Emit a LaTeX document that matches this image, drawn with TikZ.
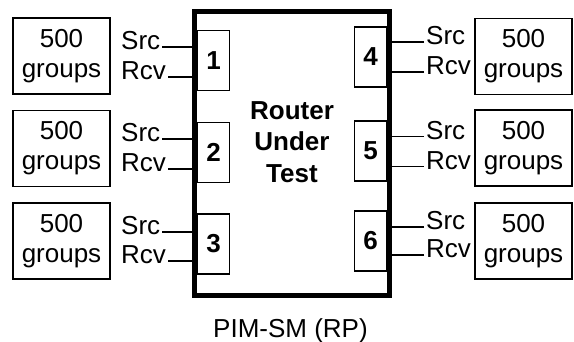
\documentclass[tikz,border=0pt]{standalone}
\usepackage{fontspec}
\setmainfont{Liberation Sans}
\usetikzlibrary{calc}
\tikzset{
  grpbox/.style={draw, line width=1.6pt, minimum width=97pt, minimum height=76pt, align=center, inner sep=0pt},
  portbox/.style={draw, line width=1.6pt, minimum width=32pt, minimum height=60pt, inner sep=0pt, font=\bfseries\fontsize{26}{30}\selectfont},
  sigtext/.style={anchor=mid west, inner sep=2pt},
  wire/.style={line width=1.5pt}
}

\begin{document}
\begin{tikzpicture}[x=1pt, y=-1pt, font=\fontsize{26}{30}\selectfont]
        \useasboundingbox (0,0) rectangle (574,341);
        \node[draw, line width=5pt, minimum width=195pt, minimum height=284.5pt] (rut) at (292,153.25) {};
        \node[align=center, font=\bfseries\fontsize{26}{31.5}\selectfont] (rutname) at (292,142) {Router\\Under\\Test};
        \node[anchor=base] (caption) at (290.5,337) {PIM-SM (RP)};

        \node[portbox] (p1) at (213.5,60.5) {1};
        \node[portbox] (p2) at (213.5,152.5) {2};
        \node[portbox] (p3) at (213.5,244) {3};
        \node[portbox] (p4) at (370.5,57) {4};
        \node[portbox] (p5) at (370.5,151) {5};
        \node[portbox] (p6) at (370.5,241) {6};

        \node[grpbox] (g1) at (61.5,56) {500\\groups};
        \node[grpbox] (g2) at (61.5,148.5) {500\\groups};
        \node[grpbox] (g3) at (61.5,241) {500\\groups};
        \node[grpbox] (g4) at (523.5,56.5) {500\\groups};
        \node[grpbox] (g5) at (523.5,148) {500\\groups};
        \node[grpbox] (g6) at (523.5,241) {500\\groups};

        \node[sigtext] (s1) at (119,47) {Src};
        \node[sigtext] (r1) at (119,77) {Rcv};
        \node[sigtext] (s2) at (119,139) {Src};
        \node[sigtext] (r2) at (119,169) {Rcv};
        \node[sigtext] (s3) at (119,232) {Src};
        \node[sigtext] (r3) at (119,261) {Rcv};
        \node[sigtext] (s4) at (424,42) {Src};
        \node[sigtext] (r4) at (424,72) {Rcv};
        \node[sigtext] (s5) at (424,136.5) {Src};
        \node[sigtext] (r5) at (424,166.5) {Rcv};
        \node[sigtext] (s6) at (424,227) {Src};
        \node[sigtext] (r6) at (424,255) {Rcv};

        \draw[wire] (s1.mid east) -- (s1.mid east -| rut.west);
        \draw[wire] (r1.mid east) -- (r1.mid east -| rut.west);
        \draw[wire] (s2.mid east) -- (s2.mid east -| rut.west);
        \draw[wire] (r2.mid east) -- (r2.mid east -| rut.west);
        \draw[wire] (s3.mid east) -- (s3.mid east -| rut.west);
        \draw[wire] (r3.mid east) -- (r3.mid east -| rut.west);
        \draw[wire] (s4.mid west) -- (s4.mid west -| rut.east);
        \draw[wire] (r4.mid west) -- (r4.mid west -| rut.east);
        \draw[wire] (s5.mid west) -- (s5.mid west -| rut.east);
        \draw[wire] (r5.mid west) -- (r5.mid west -| rut.east);
        \draw[wire] (s6.mid west) -- (s6.mid west -| rut.east);
        \draw[wire] (r6.mid west) -- (r6.mid west -| rut.east);
\end{tikzpicture}
\end{document}
